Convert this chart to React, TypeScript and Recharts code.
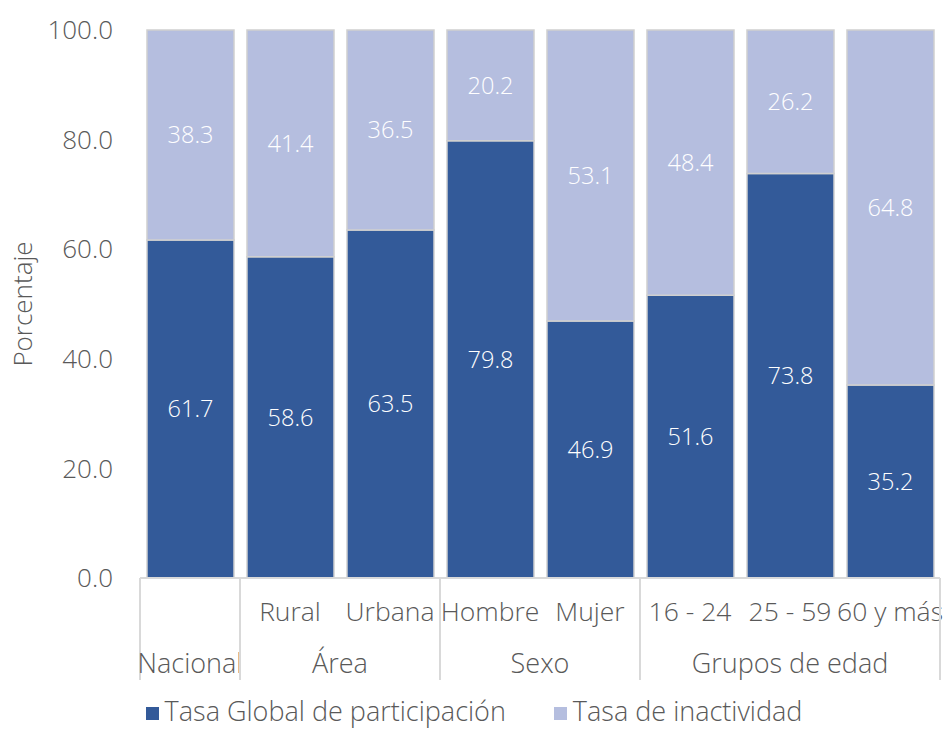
import React from 'react';
import { BarChart, Bar, XAxis, YAxis, Legend, LabelList } from 'recharts';

const categoryIds = ['nac', 'rur', 'urb', 'hom', 'muj', 'e1', 'e2', 'e3'];
const categoryLabels = ['', 'Rural', 'Urbana', 'Hombre', 'Mujer', '16 - 24', '25 - 59', '60 y más'];
const groupLabels = ['Nacional', 'Área', 'Área', 'Sexo', 'Sexo', 'Grupos de edad', 'Grupos de edad', 'Grupos de edad'];
const participacion = [61.7, 58.6, 63.5, 79.8, 46.9, 51.6, 73.8, 35.2];
const inactividad = [38.3, 41.4, 36.5, 20.2, 53.1, 48.4, 26.2, 64.8];
const yTicks = [0, 20, 40, 60, 80, 100];
const seriesNames = ['Tasa Global de participación', 'Tasa de inactividad'];

const data = categoryIds.map((id, i) => ({
  id,
  participacion: participacion[i],
  inactividad: inactividad[i],
}));

const DARK = '#335A99';
const LIGHT = '#B5BEDF';
const TEXT = '#595959';
const GRID = '#D9D9D9';
const FONT = '"Open Sans", Lato, sans-serif';
const FW = 300;

const W = 949;
const H = 730;
const M = { top: 30, right: 9, left: 0, bottom: 0 };
const YW = 140;
const PLOT_W = W - M.left - M.right - YW;
const BAND = PLOT_W / categoryIds.length;

const MultiTick = (props: any) => {
  const { x, y, index } = props;
  const g = groupLabels[index];
  const first = index === 0 || groupLabels[index - 1] !== g;
  let size = 0;
  for (let j = index; j < groupLabels.length && groupLabels[j] === g; j++) size++;
  const last = index === groupLabels.length - 1;
  const lineLen = 102;
  return (
    <g>
      <text x={x} y={y + 33} textAnchor="middle" dominantBaseline="central" fill={TEXT} fontSize={26.5} fontWeight={FW} fontFamily={FONT}>
        {categoryLabels[index]}
      </text>
      {first && (
        <>
          <line x1={x - BAND / 2} x2={x - BAND / 2} y1={y} y2={y + lineLen} stroke={GRID} strokeWidth={2} />
          <text x={x + ((size - 1) * BAND) / 2} y={y + 84} textAnchor="middle" dominantBaseline="central" fill={TEXT} fontSize={27} fontWeight={FW} fontFamily={FONT}>
            {g}
          </text>
        </>
      )}
      {last && <line x1={x + BAND / 2} x2={x + BAND / 2} y1={y} y2={y + lineLen} stroke={GRID} strokeWidth={2} />}
    </g>
  );
};

const LegendContent = () => (
  <div style={{ display: 'flex', justifyContent: 'center', alignItems: 'center', gap: 48, height: 30, lineHeight: '30px', position: 'relative', top: -4, fontFamily: FONT, fontWeight: FW, fontSize: 27, color: TEXT, paddingLeft: 8 }}>
    {[DARK, LIGHT].map((c, i) => (
      <div key={i} style={{ display: 'flex', alignItems: 'center', height: 30 }}>
        <span style={{ display: 'inline-block', width: 13, height: 13, background: c, marginRight: 6, position: 'relative', top: 2 }} />
        <span style={{ lineHeight: '30px', whiteSpace: 'nowrap' }}>{seriesNames[i]}</span>
      </div>
    ))}
  </div>
);

const YLabel = (props: any) => {
  const vb = props.viewBox || {};
  const cy = vb.y + vb.height / 2;
  return (
    <text x={22} y={cy} transform={`rotate(-90, 22, ${cy})`} textAnchor="middle" dominantBaseline="central" fill={TEXT} fontSize={26} fontWeight={FW} fontFamily={FONT}>
      Porcentaje
    </text>
  );
};

export default function App() {
  return (
    <div style={{ position: 'absolute', left: 0, top: 0, width: W, height: H, background: '#fff' }}>
      <BarChart width={W} height={H} data={data} margin={M} barSize={87}>
        <XAxis
          dataKey="id"
          interval={0}
          height={122}
          tickSize={0}
          tickMargin={0}
          tickLine={false}
          axisLine={{ stroke: GRID, strokeWidth: 2 }}
          tick={<MultiTick />}
        />
        <YAxis
          width={YW}
          domain={[0, 100]}
          ticks={yTicks}
          interval={0}
          axisLine={false}
          tickLine={false}
          tickMargin={21}
          tickFormatter={(v: number) => v.toFixed(1)}
          tick={{ fill: TEXT, fontSize: 26, fontWeight: FW, fontFamily: FONT }}
          label={<YLabel />}
        />
        <Legend verticalAlign="bottom" content={<LegendContent />} wrapperStyle={{ height: 30 }} />
        <Bar dataKey="participacion" name={seriesNames[0]} stackId="a" fill={DARK} stroke="#D0D0D0" strokeWidth={1.5} isAnimationActive={false}>
          <LabelList dataKey="participacion" position="center" fill="#fff" fontSize={23.5} fontWeight={FW} fontFamily={FONT} formatter={(v: any) => Number(v).toFixed(1)} />
        </Bar>
        <Bar dataKey="inactividad" name={seriesNames[1]} stackId="a" fill={LIGHT} stroke="#D0D0D0" strokeWidth={1.5} isAnimationActive={false}>
          <LabelList dataKey="inactividad" position="center" fill="#fff" fontSize={23.5} fontWeight={FW} fontFamily={FONT} formatter={(v: any) => Number(v).toFixed(1)} />
        </Bar>
      </BarChart>
    </div>
  );
}
